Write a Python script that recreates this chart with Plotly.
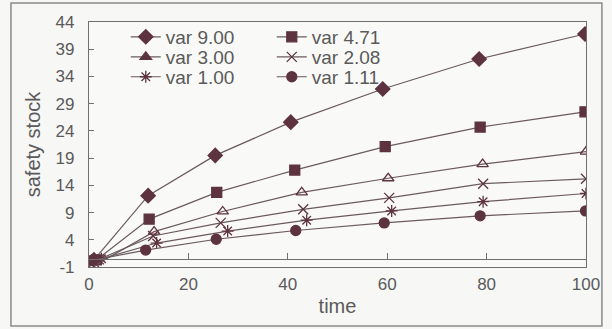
import plotly.graph_objects as go

# ---- data ----
names = ["var 9.00", "var 4.71", "var 3.00", "var 2.08", "var 1.00", "var 1.11"]
x_var900 = [1.0, 11.9, 25.4, 40.6, 59.1, 78.5, 99.8]
y_var900 = [0.3, 12.1, 19.5, 25.6, 31.7, 37.2, 41.8]
x_var471 = [1.5, 12.1, 25.7, 41.4, 59.6, 78.7, 99.8]
y_var471 = [0.3, 7.8, 12.7, 16.8, 21.1, 24.7, 27.5]
x_var300 = [1.0, 13.1, 26.9, 42.8, 60.2, 79.2, 100.0]
y_var300 = [-0.8, 5.5, 9.2, 12.7, 15.3, 17.9, 20.2]
x_var208 = [2.0, 12.9, 26.5, 43.1, 60.4, 79.3, 100.0]
y_var208 = [0.4, 4.7, 7.1, 9.6, 11.7, 14.3, 15.2]
x_var100 = [2.5, 13.6, 27.9, 43.8, 60.9, 79.3, 100.0]
y_var100 = [0.5, 3.4, 5.6, 7.6, 9.3, 11.0, 12.5]
x_var111 = [0.5, 11.4, 25.6, 41.6, 59.4, 78.7, 99.9]
y_var111 = [0.2, 2.1, 4.1, 5.7, 7.1, 8.4, 9.3]

y_ticks = [-1, 4, 9, 14, 19, 24, 29, 34, 39, 44]
y_tick_text = ["-1", "4", "9", "14", "19", "24", "29", "34", "39", "44"]
x_ticks = [0, 20, 40, 60, 80, 100]
x_inner_ticks = [20, 40, 60, 80]
Y_MIN, Y_MAX = -1, 44
BASELINE = 0.5  # value where the inner time axis line sits

xs = [x_var900, x_var471, x_var300, x_var208, x_var100, x_var111]
ys = [y_var900, y_var471, y_var300, y_var208, y_var100, y_var111]
symbols = ["diamond", "square", "triangle-up-open", "x-thin-open", "asterisk-open", "circle"]
legend_symbols = ["diamond", "square", "triangle-up", "x-thin-open", "asterisk-open", "circle"]
sizes = [11, 10, 10, 10, 10, 10]
legend_of = ["legend", "legend", "legend2", "legend2", "legend3", "legend3"]

LINE = "#6a5a5e"
MARK = "#5e3340"
TEXT = "#5a5a5a"
AXIS = "#707070"
FONT = "Liberation Sans, Arial, sans-serif"

fig = go.Figure()
for i in range(6):
    fig.add_trace(go.Scatter(
        x=xs[i], y=ys[i], mode="lines+markers", showlegend=False,
        line=dict(color=LINE, width=1.2),
        marker=dict(symbol=symbols[i], size=sizes[i], color=MARK,
                    line=dict(color=MARK, width=1.3)),
    ))
# legend entries (legend uses filled triangle as in reference)
for i in range(6):
    fig.add_trace(go.Scatter(
        x=[None], y=[None], mode="lines+markers", name=names[i], legend=legend_of[i],
        line=dict(color=LINE, width=1.2),
        marker=dict(symbol=legend_symbols[i], size=sizes[i], color=MARK,
                    line=dict(color=MARK, width=1.3)),
    ))
# invisible trace to hold the inner axis
fig.add_trace(go.Scatter(x=[None], y=[None], xaxis="x2", showlegend=False, hoverinfo="skip"))

leg_common = dict(x=0.074, xanchor="left", yanchor="middle", orientation="h",
                  bgcolor="rgba(0,0,0,0)", font=dict(size=19), entrywidth=101,
                  traceorder="normal")

fig.update_layout(
    width=612, height=329,
    margin=dict(l=89, r=26, t=22, b=62),
    paper_bgcolor="#f7f7f6", plot_bgcolor="#f9f9f8",
    font=dict(family=FONT, color=TEXT, size=17),
    xaxis=dict(range=[0, 100], tickvals=x_ticks, ticks="", showgrid=False, zeroline=False,
               showline=True, mirror=True, linecolor=AXIS, linewidth=1.2,
               ticklabelstandoff=1,
               title=dict(text="time", font=dict(size=20), standoff=6)),
    xaxis2=dict(range=[0, 100], overlaying="x", anchor="free",
                position=(BASELINE - Y_MIN) / (Y_MAX - Y_MIN),
                tickvals=x_inner_ticks, ticks="inside", ticklen=6, tickwidth=1.2,
                tickcolor=AXIS, showticklabels=False, showgrid=False, zeroline=False,
                showline=True, linecolor=AXIS, linewidth=1.2),
    yaxis=dict(range=[Y_MIN, Y_MAX], tickvals=y_ticks, ticktext=y_tick_text,
               ticks="inside", ticklen=5, tickcolor=AXIS, showgrid=False, zeroline=False,
               showline=True, mirror=True, linecolor=AXIS, linewidth=1.2,
               ticklabelstandoff=10,
               title=dict(text="safety stock", font=dict(size=20), standoff=9)),
    legend=dict(leg_common, y=0.939),
    legend2=dict(leg_common, y=0.857),
    legend3=dict(leg_common, y=0.776),
    shapes=[dict(type="rect", xref="paper", yref="paper",
                 x0=-0.157, x1=1.032, y0=-0.241, y1=1.0776,
                 line=dict(color="#8a8a8a", width=1.5), layer="below")],
)

fig.write_html("out.html")
